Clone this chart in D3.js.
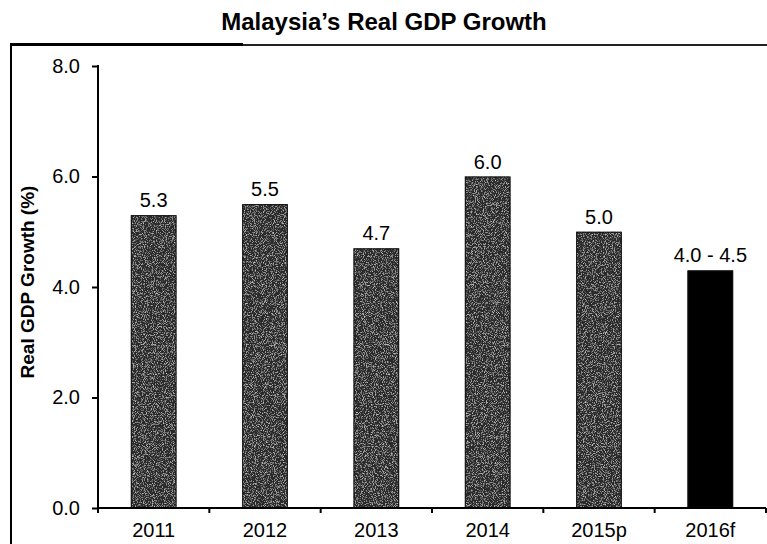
<!DOCTYPE html>
<html>
<head>
<meta charset="utf-8">
<script src="https://cdn.jsdelivr.net/npm/d3@7"></script>
<style>
  html, body { margin: 0; padding: 0; background: #fff; }
  svg { display: block; font-family: "Liberation Sans", Arial, sans-serif; }
</style>
</head>
<body>
<svg id="chart" width="767" height="544"></svg>
<script>
// Malaysia's real GDP growth, % per year
const years = ["2011", "2012", "2013", "2014", "2015p", "2016f"];
const growth = [5.3, 5.5, 4.7, 6.0, 5.0, 4.3];
const valueLabels = ["5.3", "5.5", "4.7", "6.0", "5.0", "4.0 - 4.5"];
const forecast = [false, false, false, false, false, true];
const yTicks = [0, 2, 4, 6, 8];

const svg = d3.select("#chart");
const W = 767, H = 544;
const plotLeft = 98, plotRight = 766, plotTop = 66, plotBottom = 508;

// stippled fill used by the actual-growth bars
const defs = svg.append("defs");
const grain = defs.append("filter").attr("id", "grain")
  .attr("x", 0).attr("y", 0).attr("width", 1).attr("height", 1);
grain.append("feTurbulence").attr("type", "fractalNoise")
  .attr("baseFrequency", 1.1).attr("numOctaves", 2).attr("seed", 3).attr("result", "noise");
grain.append("feColorMatrix").attr("in", "noise").attr("type", "matrix")
  .attr("values", "0 0 0 0 0.55  0 0 0 0 0.55  0 0 0 0 0.55  3.0 0 0 0 -1.5")
  .attr("result", "specks");
grain.append("feComposite").attr("in", "specks").attr("in2", "SourceGraphic").attr("operator", "atop");

// frame around the plot
svg.append("line").attr("x1", 11).attr("x2", 767).attr("y1", 45).attr("y2", 45)
  .attr("stroke", "#222").attr("stroke-width", 2);
svg.append("line").attr("x1", 10).attr("x2", 243).attr("y1", 44.5).attr("y2", 44.5)
  .attr("stroke", "#000").attr("stroke-width", 3);
svg.append("line").attr("x1", 11).attr("x2", 11).attr("y1", 43).attr("y2", H)
  .attr("stroke", "#000").attr("stroke-width", 2);

// title
svg.append("text").attr("x", 384).attr("y", 30).attr("text-anchor", "middle")
  .attr("font-weight", "bold").attr("font-size", 24).attr("fill", "#000")
  .text("Malaysia’s Real GDP Growth");

const x = d3.scaleBand().domain(years).range([plotLeft, plotRight]).paddingInner(0.59).paddingOuter(0.295);
const y = d3.scaleLinear().domain([0, 8]).range([plotBottom, plotTop]);

// bars
svg.append("g").selectAll("rect").data(years).join("rect")
  .attr("x", d => x(d))
  .attr("y", (d, i) => y(growth[i]))
  .attr("width", x.bandwidth())
  .attr("height", (d, i) => y(0) - y(growth[i]))
  .attr("fill", (d, i) => forecast[i] ? "#000" : "#2a2a2a")
  .attr("filter", (d, i) => forecast[i] ? null : "url(#grain)");
svg.append("g").selectAll("rect").data(years).join("rect")
  .attr("x", d => x(d) + 0.5)
  .attr("y", (d, i) => y(growth[i]) + 0.5)
  .attr("width", x.bandwidth() - 1)
  .attr("height", (d, i) => y(0) - y(growth[i]) - 1)
  .attr("fill", "none").attr("stroke", "#111").attr("stroke-width", 1);

// value labels
svg.append("g").selectAll("text").data(years).join("text")
  .attr("x", d => x(d) + x.bandwidth() / 2)
  .attr("y", (d, i) => y(growth[i]) - 8)
  .attr("text-anchor", "middle").attr("font-size", 20).attr("fill", "#000")
  .text((d, i) => valueLabels[i]);

// y axis
const yAxis = svg.append("g").attr("transform", `translate(${plotLeft},0)`)
  .call(d3.axisLeft(y).tickValues(yTicks).tickFormat(d3.format(".1f")).tickSize(6).tickPadding(12).tickSizeOuter(0));
yAxis.select(".domain").attr("stroke", "#000").attr("stroke-width", 2).attr("d", `M0,${plotTop - 1}V${plotBottom + 5}`);
yAxis.selectAll(".tick line").attr("stroke", "#000").attr("stroke-width", 2);
yAxis.selectAll(".tick text").attr("font-size", 20).attr("fill", "#000")
  .attr("font-family", "Liberation Sans, Arial, sans-serif");

// x axis with ticks at category boundaries
const xAxis = svg.append("g").attr("transform", `translate(0,${plotBottom})`);
xAxis.append("line").attr("x1", plotLeft).attr("x2", plotRight).attr("y1", 0).attr("y2", 0)
  .attr("stroke", "#000").attr("stroke-width", 2);
xAxis.selectAll("line.bound").data(years).join("line").attr("class", "bound")
  .attr("x1", d => x(d) + x.bandwidth() / 2 + x.step() / 2)
  .attr("x2", d => x(d) + x.bandwidth() / 2 + x.step() / 2)
  .attr("y1", 0).attr("y2", 5).attr("stroke", "#000").attr("stroke-width", 2);
xAxis.selectAll("text").data(years).join("text")
  .attr("x", d => x(d) + x.bandwidth() / 2)
  .attr("y", 29).attr("text-anchor", "middle").attr("font-size", 20).attr("fill", "#000")
  .text(d => d);

// y axis title
svg.append("text").attr("transform", `translate(34,282) rotate(-90)`)
  .attr("text-anchor", "middle").attr("font-weight", "bold").attr("font-size", 19).attr("fill", "#000")
  .text("Real GDP Growth (%)");
</script>
</body>
</html>
